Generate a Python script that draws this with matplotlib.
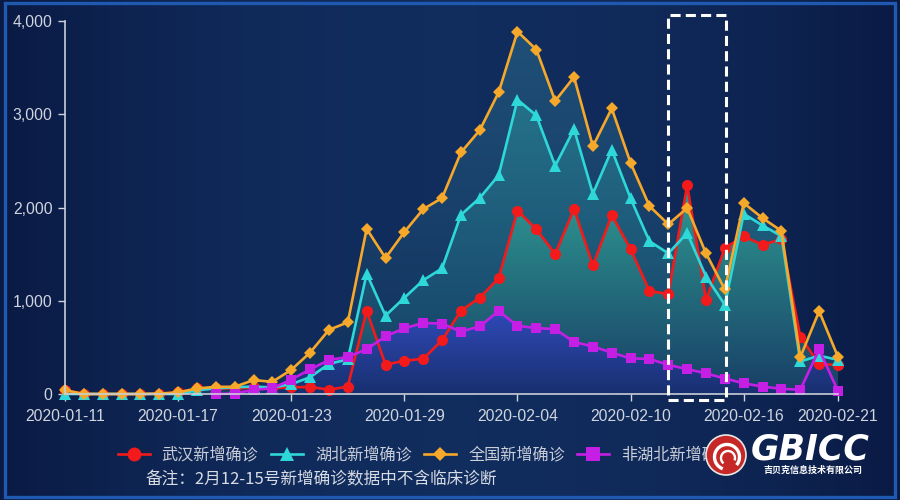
import matplotlib
matplotlib.use("Agg")
import matplotlib.pyplot as plt
import numpy as np
from matplotlib.colors import LinearSegmentedColormap
from matplotlib.patches import Rectangle, Circle, Arc

plt.rcParams['font.family'] = ['Liberation Sans', 'Noto Sans CJK SC', 'DejaVu Sans']

# 日期 2020-01-11 .. 2020-02-21
dates = ['2020-01-%02d' % d for d in range(11, 32)] + ['2020-02-%02d' % d for d in range(1, 22)]
tick_labels = ['2020-01-11', '2020-01-17', '2020-01-23', '2020-01-29',
               '2020-02-04', '2020-02-10', '2020-02-16', '2020-02-21']

wuhan = [41, 0, 0, 0, 0, 4, 17, 59, 60, 60, 70, 62, 70, 77, 46, 80,
         892, 315, 356, 378, 576, 894, 1033, 1242, 1967, 1766, 1501, 1985,
         1379, 1920, 1552, 1104, 1072, 2242, 1009, 1566, 1690, 1600, 1660,
         615, 319, 314]
hubei = [0, 0, 0, 0, 0, 0, 0, 40, 60, 72, 80, 69, 105, 180, 323, 371,
         1291, 840, 1032, 1220, 1347, 1921, 2103, 2345, 3156, 2987, 2447, 2841,
         2147, 2618, 2097, 1638, 1508, 1725, 1260, 955, 1933, 1807, 1693,
         349, 411, 366]
quanguo = [41, 0, 0, 0, 0, 4, 17, 59, 77, 77, 149, 131, 259, 444, 688, 769,
           1771, 1459, 1737, 1982, 2102, 2590, 2829, 3235, 3887, 3694, 3143, 3399,
           2656, 3062, 2478, 2015, 1820, 1994, 1508, 1121, 2048, 1886, 1749,
           394, 889, 397]
# 非湖北 从 01-19 开始
fei_hubei = [np.nan] * 8 + [0, 5, 44, 62, 154, 264, 365, 398,
                            480, 619, 705, 762, 755, 669, 726, 890, 731, 707, 696, 558,
                            509, 444, 381, 377, 312, 267, 221, 166, 115, 79, 56,
                            45, 478, 31]

names = ['武汉新增确诊', '湖北新增确诊', '全国新增确诊', '非湖北新增确诊']
line_colors = ['#f21a1a', '#2ed8d8', '#f5a82a', '#c51fe6']
markers = ['o', '^', 'D', 's']
# 面积渐变 (顶部, 底部)
fill_colors = {'quanguo': ('#1f5078', '#11305c'),
               'hubei': ('#25728a', '#153e66'),
               'wuhan': ('#2f9a92', '#183f66'),
               'fei': ('#3049b8', '#18306f')}


def gradient_fill(ax, x, y, top, bottom, z):
    x = np.asarray(x, float)
    y = np.asarray(y, float)
    poly = ax.fill_between(x, 0, y, color='none', lw=0)
    path = poly.get_paths()[0]
    cmap = LinearSegmentedColormap.from_list('g', [bottom, top])
    grad = np.linspace(0, 1, 256)[:, None]
    im = ax.imshow(grad, aspect='auto', cmap=cmap, origin='lower',
                   extent=[x.min(), x.max(), 0, np.nanmax(y)], zorder=z)
    im.set_clip_path(path, transform=ax.transData)


fig = plt.figure(figsize=(9, 5), dpi=100)
fig.patch.set_facecolor('#091a42')

# 背景渐变
bg = fig.add_axes([0, 0, 1, 1], zorder=-10)
xs = np.linspace(-1, 1, 400)
row = 1 - xs ** 2
bg_cmap = LinearSegmentedColormap.from_list('bg', ['#0a1a44', '#112d5e'])
bg.imshow(row[None, :], aspect='auto', cmap=bg_cmap, extent=[0, 1, 0, 1])
bg.add_patch(Rectangle((0.006, 0.006), 0.988, 0.988, fill=False,
                       ec='#2059b0', lw=2.4, transform=bg.transAxes))
bg.set_xlim(0, 1)
bg.set_ylim(0, 1)
bg.axis('off')

ax = fig.add_axes([65 / 900, 106 / 500, 773 / 900, 373 / 500])
ax.set_facecolor('none')
x = np.arange(len(dates))

gradient_fill(ax, x, quanguo, *fill_colors['quanguo'], z=1)
gradient_fill(ax, x, hubei, *fill_colors['hubei'], z=1.1)
gradient_fill(ax, x, wuhan, *fill_colors['wuhan'], z=1.2)
gradient_fill(ax, x[8:], fei_hubei[8:], *fill_colors['fei'], z=1.3)

series = [wuhan, hubei, quanguo, fei_hubei]
sizes = {'o': 8, '^': 8, 'D': 6, 's': 7.5}
handles = []
for i, (vals, name, c, m) in enumerate(zip(series, names, line_colors, markers)):
    h, = ax.plot(x, vals, color=c, lw=1.9, marker=m, markersize=sizes[m],
                 markeredgewidth=0, label=name, zorder=3 + i, clip_on=False)
    handles.append(h)

ax.set_xlim(0, 41)
ax.set_ylim(0, 4000)
ax.set_xticks([dates.index(t) for t in tick_labels])
ax.set_xticklabels(tick_labels)
ax.set_yticks([0, 1000, 2000, 3000, 4000])
ax.set_yticklabels(['0', '1,000', '2,000', '3,000', '4,000'])
ax.tick_params(colors='#d0d4de', labelsize=11.3, length=5, width=1, pad=4)
ax.tick_params(axis='x', pad=6)
for s in ['top', 'right']:
    ax.spines[s].set_visible(False)
for s in ['left', 'bottom']:
    ax.spines[s].set_color('#c9ced8')
    ax.spines[s].set_linewidth(1.2)
    ax.spines[s].set_zorder(10)

# 虚线框 2月12-15
ax.add_patch(Rectangle((32, -65), 3.05, 4130, fill=False, ec='white', lw=2.2,
                       linestyle=(0, (3.3, 1.7)), clip_on=False, zorder=12))

leg = fig.legend(handles=handles, loc='center left', bbox_to_anchor=(103 / 900, 1 - 455 / 500),
                 ncol=4, frameon=False, handlelength=2.0, handletextpad=0.75,
                 columnspacing=0.75, labelcolor='#c9ced8', markerscale=1.25,
                 prop={'family': ['Noto Sans CJK SC', 'DejaVu Sans'], 'size': 11.6})

fig.text(146 / 900, 1 - 480 / 500, '备注：2月12-15号新增确诊数据中不含临床诊断',
         color='#d8dce4', fontsize=12, va='center', ha='left',
         family=['Noto Sans CJK SC', 'DejaVu Sans'])

# logo
lg = fig.add_axes([0, 0, 1, 1], zorder=20)
lg.set_xlim(0, 900)
lg.set_ylim(500, 0)
lg.axis('off')
lg.add_patch(Circle((726, 455), 20, color='#c62828', ec='#e8e8e8', lw=1.2))
lg.add_patch(Arc((727, 457), 25, 25, theta1=110, theta2=400, color='white', lw=2.4))
lg.add_patch(Arc((728, 458), 14, 14, theta1=130, theta2=380, color='white', lw=1.7))
lg.text(810, 450, 'GBICC', color='white', fontsize=25, fontweight='heavy', style='italic',
        ha='center', va='center', family='DejaVu Sans')
lg.text(813, 470, '吉贝克信息技术有限公司', color='white', fontsize=6.5, fontweight='bold',
        ha='center', va='center', family=['Noto Sans CJK SC'])

fig.savefig('out.png', dpi=100, facecolor=fig.get_facecolor())
